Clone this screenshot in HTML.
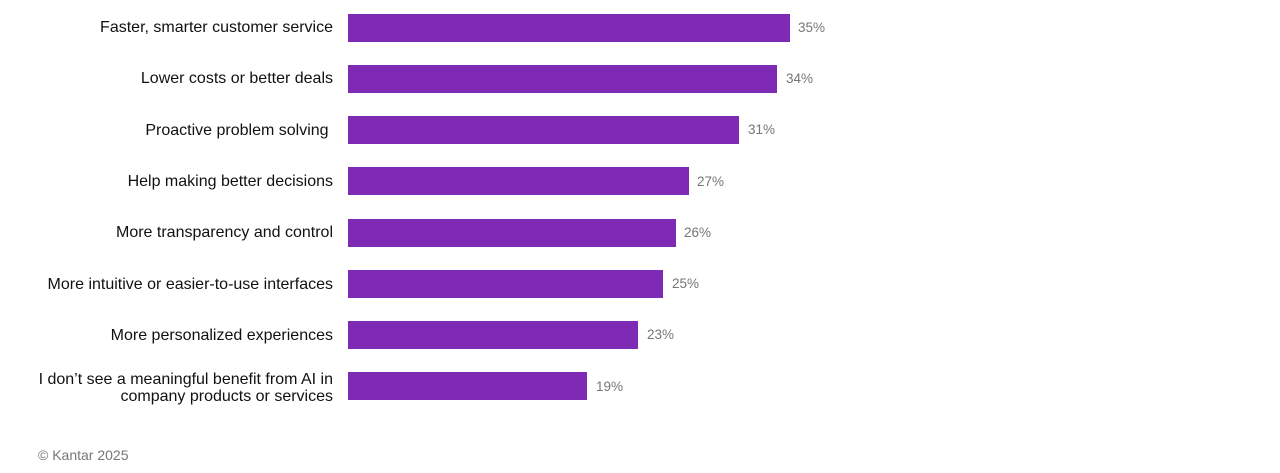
<!DOCTYPE html>
<html><head><style>
body{margin:0;width:1280px;height:473px;background:#fff;font-family:"Liberation Sans",Arial,sans-serif;position:relative;overflow:hidden}
.l{position:absolute;right:947px;font-size:16px;color:#111;text-align:right;line-height:17px;white-space:nowrap}
.b{position:absolute;left:348px;height:28px;background:#7f2ab5}
.v{position:absolute;font-size:13.5px;color:#767676}
.f{position:absolute;left:38px;top:447px;font-size:14px;color:#767676}
</style></head><body>
<div class="l" style="top:19px">Faster, smarter customer service</div>
<div class="b" style="top:14px;width:442px"></div><div class="v" style="left:798px;top:20px">35%</div>
<div class="l" style="top:70px">Lower costs or better deals</div>
<div class="b" style="top:65px;width:429px"></div><div class="v" style="left:786px;top:71px">34%</div>
<div class="l" style="top:122px">Proactive problem solving&nbsp;</div>
<div class="b" style="top:116px;width:391px"></div><div class="v" style="left:748px;top:122px">31%</div>
<div class="l" style="top:173px">Help making better decisions</div>
<div class="b" style="top:167px;width:341px"></div><div class="v" style="left:697px;top:174px">27%</div>
<div class="l" style="top:224px">More transparency and control</div>
<div class="b" style="top:219px;width:328px"></div><div class="v" style="left:684px;top:225px">26%</div>
<div class="l" style="top:276px">More intuitive or easier-to-use interfaces</div>
<div class="b" style="top:270px;width:315px"></div><div class="v" style="left:672px;top:276px">25%</div>
<div class="l" style="top:327px">More personalized experiences</div>
<div class="b" style="top:321px;width:290px"></div><div class="v" style="left:647px;top:327px">23%</div>
<div class="l" style="top:371px">I don’t see a meaningful benefit from AI in<br>company products or services</div>
<div class="b" style="top:372px;width:239px"></div><div class="v" style="left:596px;top:379px">19%</div>
<div class="f">© Kantar 2025</div>
</body></html>
